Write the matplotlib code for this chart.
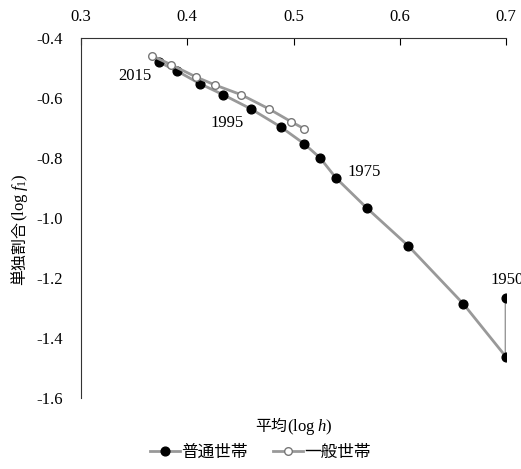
import numpy as np
import matplotlib
matplotlib.use('Agg')
import matplotlib.pyplot as plt

plt.rcParams['font.family'] = ['Liberation Serif', 'Noto Sans CJK JP']
plt.rcParams['mathtext.fontset'] = 'custom'
plt.rcParams['mathtext.rm'] = 'Liberation Serif'
plt.rcParams['mathtext.sf'] = 'Liberation Serif'
plt.rcParams['mathtext.it'] = 'Liberation Serif:italic'

# 普通世帯 1950-2015 (5年ごと)
years_a = [1950, 1955, 1960, 1965, 1970, 1975, 1980, 1985, 1990, 1995, 2000, 2005, 2010, 2015]
mean_a = [0.700, 0.700, 0.660, 0.608, 0.569, 0.540, 0.525, 0.510, 0.488, 0.460, 0.434, 0.412, 0.390, 0.373]
single_a = [-1.267, -1.463, -1.287, -1.093, -0.967, -0.867, -0.800, -0.753, -0.697, -0.637, -0.590, -0.553, -0.510, -0.480]

# 一般世帯 1980-2015
years_b = [1980, 1985, 1990, 1995, 2000, 2005, 2010, 2015]
mean_b = [0.510, 0.498, 0.477, 0.451, 0.426, 0.408, 0.385, 0.367]
single_b = [-0.703, -0.680, -0.637, -0.590, -0.557, -0.530, -0.490, -0.460]

label_years = [2015, 1995, 1975, 1950]
label_offsets = [(-17, -10), (-17, -10), (20, 4), (1, 13)]

fig = plt.figure(figsize=(5.21, 4.69), dpi=100)
ax = fig.add_axes([0.1555, 0.1514, 0.8157, 0.768])

ax.plot(mean_a, single_a, color='#999999', lw=2, marker='o', ms=6.3,
        mfc='black', mec='black', label='普通世帯', zorder=3)
ax.plot(mean_b, single_b, color='#999999', lw=2, marker='o', ms=5.5,
        mfc='white', mec='#777777', mew=1, label='一般世帯', zorder=4)

for yr, (dx, dy) in zip(label_years, label_offsets):
    i = years_a.index(yr)
    ax.annotate(str(yr), (mean_a[i], single_a[i]), xytext=(dx, dy),
                textcoords='offset points', ha='center', va='center',
                fontsize=12, annotation_clip=False)

ax.set_xlim(0.3, 0.7)
ax.set_ylim(-1.6, -0.4)
ax.set_xticks(np.arange(0.3, 0.71, 0.1))
ax.set_xticklabels(['0.3', '0.4', '0.5', '0.6', '0.7'])
ax.set_yticks(np.arange(-1.6, -0.39, 0.2))
ax.set_yticklabels(['-1.6', '-1.4', '-1.2', '-1.0', '-0.8', '-0.6', '-0.4'])
ax.xaxis.tick_top()
ax.tick_params(axis='x', direction='in', length=5, labelsize=12, pad=9)
ax.tick_params(axis='y', length=0, labelsize=12, pad=13)

ax.spines['bottom'].set_visible(False)
ax.spines['right'].set_visible(False)
for s in ['top', 'left']:
    ax.spines[s].set_color('#333333')

# 軸ラベル: 日本語部分と数式部分を分けて描く
fig.text(0.046, 0.529, '単独割合', rotation=90, rotation_mode='anchor',
         ha='right', va='baseline', fontsize=11.5)
fig.text(0.046, 0.529, r'$\mathsf{(log}\;f_1\mathsf{)}$', rotation=90,
         rotation_mode='anchor', ha='left', va='baseline', fontsize=12)
fig.text(0.551, 0.081, '平均', ha='right', va='baseline', fontsize=11.5)
fig.text(0.551, 0.081, r'$\mathsf{(log}\;h\mathsf{)}$', ha='left', va='baseline', fontsize=12)

fig.legend(loc='center', bbox_to_anchor=(0.5, 0.035), ncol=2, frameon=False,
           fontsize=12, handlelength=1.8, columnspacing=1.5, handletextpad=0.1)

fig.savefig('out.png', dpi=100)
